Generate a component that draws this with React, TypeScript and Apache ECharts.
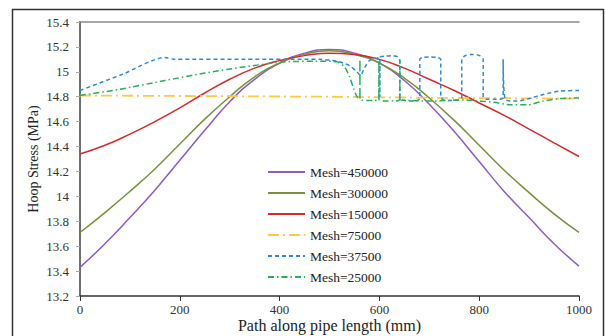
import React, { useEffect, useRef } from "react";
import * as echarts from "echarts";

// ---- data ----
const pathX = [0, 50, 100, 150, 200, 250, 300, 350, 400, 450, 500, 550, 600, 650, 700, 750, 800, 850, 900, 950, 1000];
const mesh450000 = [13.43, 13.62, 13.83, 14.05, 14.29, 14.53, 14.76, 14.94, 15.07, 15.15, 15.18, 15.15, 15.07, 14.93, 14.74, 14.52, 14.28, 14.04, 13.83, 13.62, 13.44];
const mesh300000 = [13.71, 13.87, 14.04, 14.22, 14.42, 14.62, 14.8, 14.96, 15.07, 15.14, 15.17, 15.14, 15.07, 14.95, 14.79, 14.61, 14.41, 14.21, 14.03, 13.86, 13.71];
const mesh150000 = [14.34, 14.41, 14.5, 14.6, 14.71, 14.83, 14.94, 15.03, 15.09, 15.13, 15.15, 15.14, 15.1, 15.03, 14.94, 14.85, 14.75, 14.65, 14.54, 14.43, 14.32];

const mesh75000X = [0, 250, 500, 750, 1000];
const mesh75000Y = [14.81, 14.805, 14.8, 14.79, 14.785];

const mesh37500X = [0, 85, 170, 190, 330, 480, 515, 540, 555, 562, 570, 580, 595, 601, 601, 601, 612, 625, 637, 641, 641, 645, 660, 676, 681, 681, 686, 700, 716, 723, 723, 728, 745, 760, 765, 765, 772, 787, 801, 808, 808, 815, 835, 848, 848, 852, 875, 900, 930, 962, 1000];
const mesh37500Y = [14.85, 14.98, 15.115, 15.1, 15.1, 15.1, 15.085, 15.05, 15.0, 14.97, 15.03, 15.09, 15.11, 15.115, 14.8, 15.115, 15.125, 15.13, 15.12, 15.09, 14.79, 14.775, 14.765, 14.77, 14.79, 15.1, 15.115, 15.12, 15.115, 15.1, 14.8, 14.775, 14.77, 14.775, 14.79, 15.1, 15.13, 15.14, 15.13, 15.1, 14.8, 14.78, 14.78, 14.79, 15.1, 14.78, 14.765, 14.785, 14.82, 14.845, 14.85];

const mesh25000X = [0, 80, 170, 250, 330, 411, 490, 515, 530, 540, 548, 555, 561, 561, 561, 575, 590, 599, 599, 599, 612, 630, 641, 641, 641, 660, 700, 740, 770, 800, 830, 862, 896, 928, 962, 1000];
const mesh25000Y = [14.81, 14.86, 14.93, 14.99, 15.04, 15.08, 15.085, 15.08, 15.04, 14.96, 14.87, 14.8, 14.78, 15.1, 14.78, 14.77, 14.77, 14.78, 15.09, 14.78, 14.765, 14.765, 14.78, 15.09, 14.78, 14.77, 14.765, 14.77, 14.775, 14.765, 14.755, 14.735, 14.735, 14.765, 14.785, 14.79];

const seriesNames = ["Mesh=450000", "Mesh=300000", "Mesh=150000", "Mesh=75000", "Mesh=37500", "Mesh=25000"];

const FONT = "'Liberation Serif', 'Times New Roman', serif";

function pairs(xs: number[], ys: number[]) {
  return xs.map((x, i) => [x, ys[i]]);
}

export default function App() {
  const ref = useRef<HTMLDivElement>(null);
  useEffect(() => {
    if (!ref.current) return;
    const chart = echarts.init(ref.current, undefined, { renderer: "svg" });
    const axisCommon = { min: 0, max: 1000, interval: 200 };
    const yCommon = { min: 13.2, max: 15.4, interval: 0.2 };
    chart.setOption({
      animation: false,
      backgroundColor: "#ffffff",
      graphic: [
        {
          type: "rect",
          shape: { x: 12.5, y: 9.5, width: 591, height: 340 },
          style: { fill: "none", stroke: "#333", lineWidth: 1.5 },
          silent: true,
        },
      ],
      grid: { left: 80, right: 26, top: 22, bottom: 40, outerBoundsMode: "none", containLabel: false },
      legend: {
        orient: "vertical",
        left: 262,
        top: 160,
        itemWidth: 37,
        itemHeight: 14,
        itemGap: 7,
        data: seriesNames,
        itemStyle: { opacity: 0 },
        textStyle: { fontFamily: FONT, fontSize: 13.5, color: "#222" },
      },
      xAxis: [
        {
          type: "value",
          ...axisCommon,
          name: "Path along pipe length (mm)",
          nameLocation: "middle",
          nameGap: 21,
          nameMoveOverlap: false,
          nameTextStyle: { fontFamily: FONT, fontSize: 16, color: "#222" },
          axisLine: { show: true, lineStyle: { color: "#333", width: 1.5 } },
          axisTick: { show: true, length: 5, lineStyle: { color: "#333" } },
          axisLabel: { fontFamily: FONT, fontSize: 13, color: "#333", margin: 7, formatter: (v: number) => String(v) },
          splitLine: { show: false },
        },
        {
          type: "value",
          ...axisCommon,
          position: "top",
          axisLine: { show: true, lineStyle: { color: "#8a8a8a", width: 1.5 } },
          axisTick: { show: false },
          axisLabel: { show: false },
          splitLine: { show: false },
        },
      ],
      yAxis: [
        {
          type: "value",
          ...yCommon,
          name: "Hoop Stress (MPa)",
          nameLocation: "middle",
          nameGap: 40,
          nameMoveOverlap: false,
          nameTextStyle: { fontFamily: FONT, fontSize: 14, color: "#222" },
          axisLine: { show: true, lineStyle: { color: "#c8c8c8", width: 1 } },
          axisTick: { show: true, length: 4, lineStyle: { color: "#aaa" } },
          axisLabel: { fontFamily: FONT, fontSize: 13, color: "#333", margin: 11 },
          splitLine: { show: false },
        },
        {
          type: "value",
          ...yCommon,
          position: "right",
          axisLine: { show: true, lineStyle: { color: "#6e6e6e", width: 2 } },
          axisTick: { show: false },
          axisLabel: { show: false },
          splitLine: { show: false },
        },
      ],
      series: [
        {
          name: seriesNames[0],
          type: "line",
          smooth: true,
          symbol: "none",
          data: pairs(pathX, mesh450000),
          lineStyle: { color: "#8a5cc4", width: 1.5 },
          itemStyle: { color: "#8a5cc4" },
        },
        {
          name: seriesNames[1],
          type: "line",
          smooth: true,
          symbol: "none",
          data: pairs(pathX, mesh300000),
          lineStyle: { color: "#76933c", width: 1.5 },
          itemStyle: { color: "#76933c" },
        },
        {
          name: seriesNames[2],
          type: "line",
          smooth: true,
          symbol: "none",
          data: pairs(pathX, mesh150000),
          lineStyle: { color: "#d42c2c", width: 1.5 },
          itemStyle: { color: "#d42c2c" },
        },
        {
          name: seriesNames[3],
          type: "line",
          symbol: "none",
          data: pairs(mesh75000X, mesh75000Y),
          lineStyle: { color: "#ffc845", width: 1.8, type: [11, 4, 2, 4] },
          itemStyle: { color: "#ffc845" },
        },
        {
          name: seriesNames[4],
          type: "line",
          symbol: "none",
          smooth: 0.25,
          data: pairs(mesh37500X, mesh37500Y),
          lineStyle: { color: "#2e88d6", width: 1.5, type: [4, 3] },
          itemStyle: { color: "#2e88d6" },
        },
        {
          name: seriesNames[5],
          type: "line",
          symbol: "none",
          smooth: 0.25,
          data: pairs(mesh25000X, mesh25000Y),
          lineStyle: { color: "#25b05c", width: 1.5, type: [6, 3, 1.5, 3] },
          itemStyle: { color: "#25b05c" },
        },
      ],
    });
    return () => chart.dispose();
  }, []);
  return (
    <div
      ref={ref}
      style={{ position: "fixed", left: 0, top: 0, width: 605, height: 336, background: "#fff" }}
    />
  );
}
